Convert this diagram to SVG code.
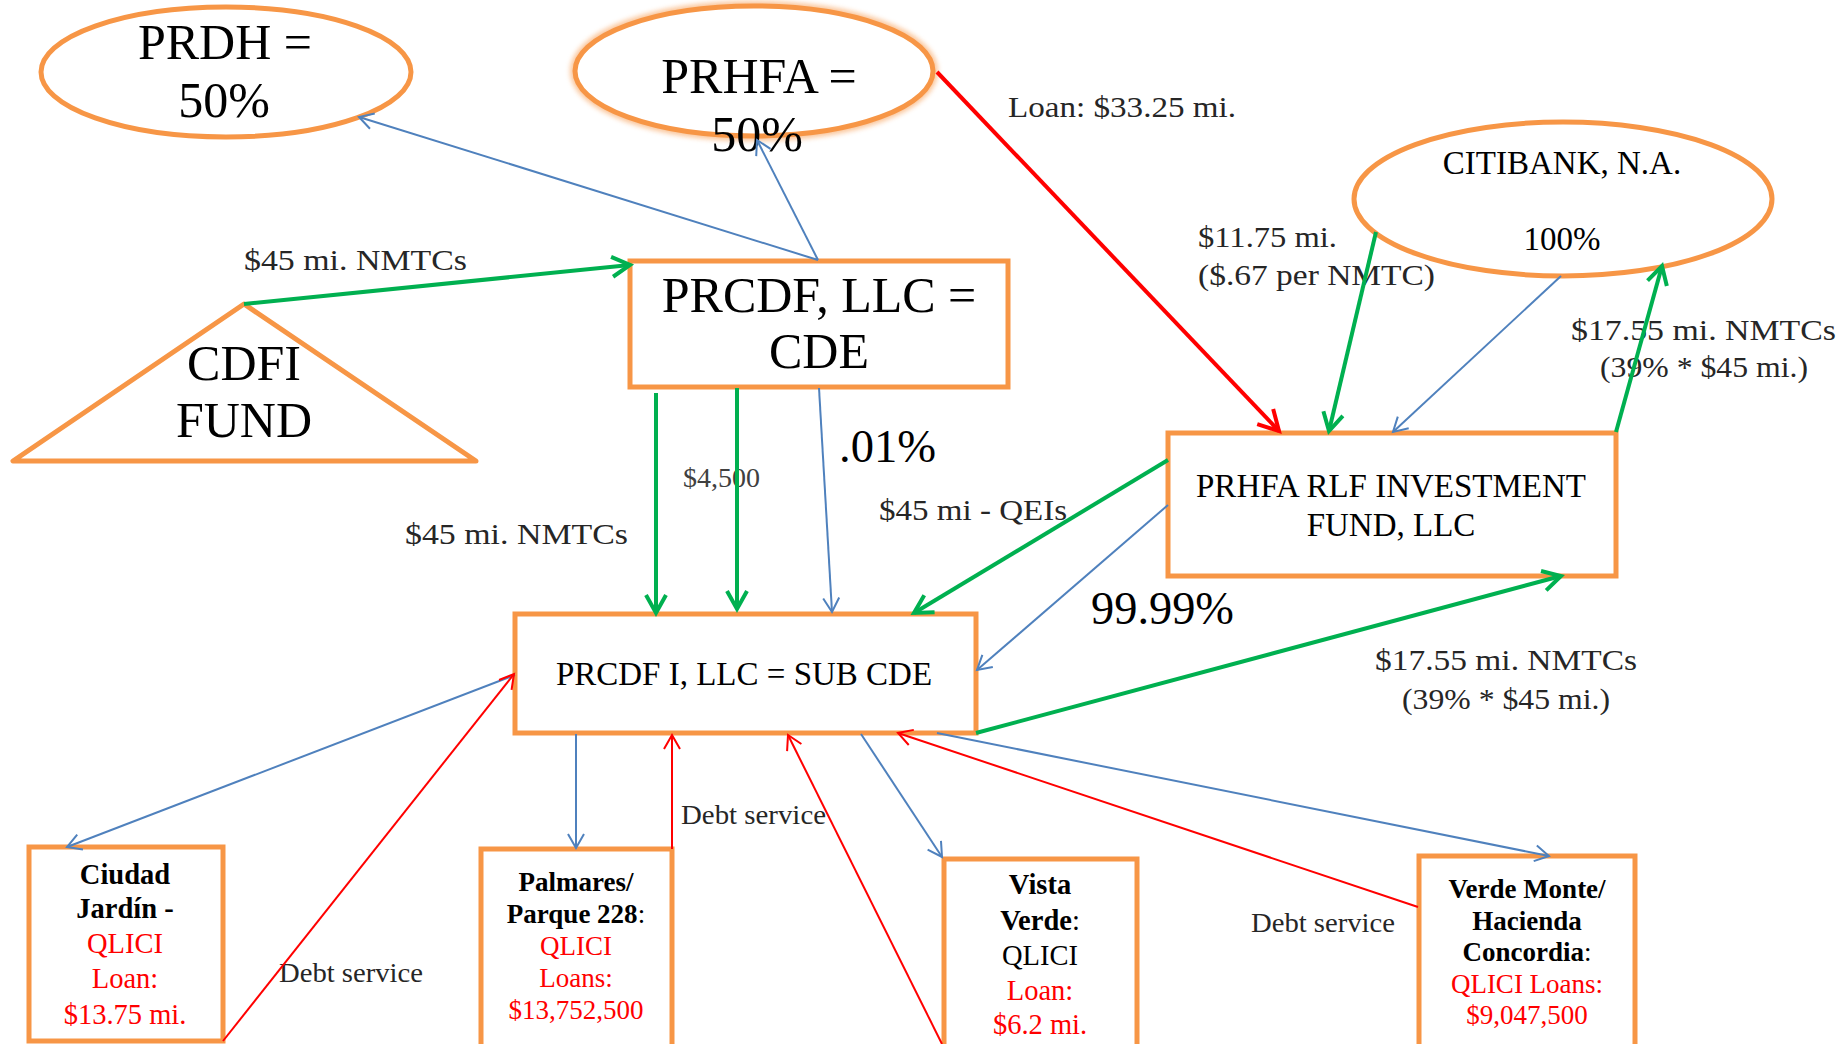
<svg xmlns="http://www.w3.org/2000/svg" width="1843" height="1044" viewBox="0 0 1843 1044">
<defs>
<style>
.node{fill:#fff;stroke:#F79646;stroke-width:5}
.t{font-family:"Liberation Serif","Times New Roman",serif;fill:#000;text-anchor:middle}
.big{font-size:50px}
.mid{font-size:33px}
.sm{font-size:27px}
.cj{font-size:28.5px}
.lbl{font-family:"Liberation Serif","Times New Roman",serif;fill:#262626}
.l30{font-size:30px}
.l27{font-size:27px}
.l46{font-size:46px;fill:#000}
.b{font-weight:bold}
.r{fill:#FF0000}
.g{stroke:#00B050;stroke-width:4;fill:none}
.bl{stroke:#4F81BD;stroke-width:2;fill:none}
.rd{stroke:#FF0000;stroke-width:2;fill:none}
.rdk{stroke:#FF0000;stroke-width:4;fill:none}
</style>
<filter id="soft" x="-10%" y="-20%" width="120%" height="140%"><feGaussianBlur stdDeviation="2.5"/></filter>
<marker id="ag" markerUnits="userSpaceOnUse" markerWidth="40" markerHeight="40" viewBox="-30 -20 40 40" refX="0" refY="0" orient="auto" overflow="visible"><path d="M-18,-10 L0,0 L-18,10" fill="none" stroke="#00B050" stroke-width="4"/></marker>
<marker id="ab" markerUnits="userSpaceOnUse" markerWidth="40" markerHeight="40" viewBox="-30 -20 40 40" refX="0" refY="0" orient="auto" overflow="visible"><path d="M-14,-8 L0,0 L-14,8" fill="none" stroke="#4F81BD" stroke-width="2"/></marker>
<marker id="ar" markerUnits="userSpaceOnUse" markerWidth="40" markerHeight="40" viewBox="-30 -20 40 40" refX="0" refY="0" orient="auto" overflow="visible"><path d="M-14,-8 L0,0 L-14,8" fill="none" stroke="#FF0000" stroke-width="2"/></marker>
<marker id="ark" markerUnits="userSpaceOnUse" markerWidth="40" markerHeight="40" viewBox="-30 -20 40 40" refX="0" refY="0" orient="auto" overflow="visible"><path d="M-20,-11 L0,0 L-20,11" fill="none" stroke="#FF0000" stroke-width="4"/></marker>
</defs>
<rect width="1843" height="1044" fill="#fff"/>

<g id="prdh">
<ellipse class="node" cx="226" cy="72" rx="185" ry="65"/>
<text class="t big" x="225" y="59">PRDH =</text>
<text class="t big" x="224" y="117">50%</text>
</g>

<g id="prhfa">
<ellipse cx="754" cy="71" rx="179" ry="65" fill="none" stroke="#F79646" stroke-width="10" opacity="0.55" filter="url(#soft)"/>
<ellipse class="node" cx="754" cy="71" rx="179" ry="65"/>
<text class="t big" x="759" y="93">PRHFA =</text>
<text class="t big" x="757" y="151">50%</text>
</g>

<g id="cdfi-fund">
<polygon class="node" points="244,304 13,461 476,461" stroke-linejoin="round"/>
<text class="t big" x="244" y="380">CDFI</text>
<text class="t big" x="244" y="437">FUND</text>
</g>

<g id="prcdf-cde">
<rect class="node" x="630" y="261" width="378" height="126"/>
<text class="t big" x="819" y="312">PRCDF, LLC =</text>
<text class="t big" x="819" y="368">CDE</text>
</g>

<g id="citibank">
<ellipse class="node" cx="1563" cy="199" rx="209" ry="77"/>
<text class="t mid" x="1562" y="174">CITIBANK, N.A.</text>
<text class="t mid" x="1562" y="250">100%</text>
</g>

<g id="prhfa-rlf">
<rect class="node" x="1168" y="433" width="448" height="143"/>
<text class="t mid" x="1391" y="497">PRHFA RLF INVESTMENT</text>
<text class="t mid" x="1391" y="536">FUND, LLC</text>
</g>

<g id="prcdf-sub-cde">
<rect class="node" x="515" y="614" width="461" height="119"/>
<text class="t mid" x="744" y="685">PRCDF I, LLC = SUB CDE</text>
</g>

<g id="ciudad-jardin">
<rect class="node" x="29" y="847" width="194" height="194"/>
<text class="t cj b" x="125" y="884">Ciudad</text>
<text class="t cj b" x="125" y="918">Jardín -</text>
<text class="t cj r" x="125" y="953">QLICI</text>
<text class="t cj r" x="125" y="988">Loan:</text>
<text class="t cj r" x="125" y="1024">$13.75 mi.</text>
</g>

<g id="palmares">
<rect class="node" x="481" y="849" width="191" height="200"/>
<text class="t sm b" x="576" y="891">Palmares/</text>
<text class="t sm" x="576" y="923"><tspan font-weight="bold">Parque 228</tspan>:</text>
<text class="t sm r" x="576" y="955">QLICI</text>
<text class="t sm r" x="576" y="987">Loans:</text>
<text class="t sm r" x="576" y="1019">$13,752,500</text>
</g>

<g id="vista-verde">
<rect class="node" x="944" y="859" width="193" height="200"/>
<text class="t cj b" x="1040" y="894">Vista</text>
<text class="t cj" x="1040" y="930"><tspan font-weight="bold">Verde</tspan>:</text>
<text class="t cj" x="1040" y="965">QLICI</text>
<text class="t cj r" x="1040" y="1000">Loan:</text>
<text class="t cj r" x="1040" y="1034">$6.2 mi.</text>
</g>

<g id="verde-monte">
<rect class="node" x="1419" y="856" width="216" height="200"/>
<text class="t sm b" x="1527" y="898">Verde Monte/</text>
<text class="t sm b" x="1527" y="930">Hacienda</text>
<text class="t sm" x="1527" y="961"><tspan font-weight="bold">Concordia</tspan>:</text>
<text class="t sm r" x="1527" y="993">QLICI Loans:</text>
<text class="t sm r" x="1527" y="1024">$9,047,500</text>
</g>

<g id="connectors">
<!-- flow labels -->
<text class="lbl l30" x="244" y="270" textLength="223" lengthAdjust="spacingAndGlyphs">$45 mi. NMTCs</text>
<text class="lbl l30" x="1008" y="117" textLength="228" lengthAdjust="spacingAndGlyphs">Loan: $33.25 mi.</text>
<text class="lbl l30" x="1198" y="247" textLength="139" lengthAdjust="spacingAndGlyphs">$11.75 mi.</text>
<text class="lbl l30" x="1198" y="285" textLength="237" lengthAdjust="spacingAndGlyphs">($.67 per NMTC)</text>
<text class="lbl l30" x="1571" y="340" textLength="265" lengthAdjust="spacingAndGlyphs">$17.55 mi. NMTCs</text>
<text class="lbl l30" x="1600" y="377" textLength="208" lengthAdjust="spacingAndGlyphs">(39% * $45 mi.)</text>
<text class="lbl l46" x="839" y="462" textLength="97" lengthAdjust="spacingAndGlyphs">.01%</text>
<text class="lbl l27" x="683" y="487" textLength="77" lengthAdjust="spacingAndGlyphs" style="fill:#404040">$4,500</text>
<text class="lbl l30" x="879" y="520" textLength="188" lengthAdjust="spacingAndGlyphs">$45 mi - QEIs</text>
<text class="lbl l30" x="405" y="544" textLength="223" lengthAdjust="spacingAndGlyphs">$45 mi. NMTCs</text>
<text class="lbl l46" x="1091" y="624" textLength="143" lengthAdjust="spacingAndGlyphs">99.99%</text>
<text class="lbl l30" x="1375" y="670" textLength="262" lengthAdjust="spacingAndGlyphs">$17.55 mi. NMTCs</text>
<text class="lbl l30" x="1402" y="709" textLength="208" lengthAdjust="spacingAndGlyphs">(39% * $45 mi.)</text>
<text class="lbl l27" x="279" y="982" textLength="144" lengthAdjust="spacingAndGlyphs">Debt service</text>
<text class="lbl l27" x="681" y="824" textLength="145" lengthAdjust="spacingAndGlyphs">Debt service</text>
<text class="lbl l27" x="1251" y="932" textLength="144" lengthAdjust="spacingAndGlyphs">Debt service</text>

<!-- ownership and flows -->
<line class="bl" x1="818" y1="260" x2="359" y2="117" marker-end="url(#ab)"/>
<line class="bl" x1="818" y1="260" x2="757" y2="140" marker-end="url(#ab)"/>
<line class="g" x1="244" y1="304" x2="630" y2="265" marker-end="url(#ag)"/>
<line class="rdk" x1="937" y1="72" x2="1279" y2="431" marker-end="url(#ark)"/>
<line class="g" x1="1376" y1="232" x2="1329" y2="431" marker-end="url(#ag)"/>
<line class="bl" x1="1561" y1="276" x2="1393" y2="432" marker-end="url(#ab)"/>
<line class="g" x1="1616" y1="432" x2="1662" y2="266" marker-end="url(#ag)"/>
<line class="g" x1="656" y1="393" x2="656" y2="613" marker-end="url(#ag)"/>
<line class="g" x1="737" y1="388" x2="737" y2="609" marker-end="url(#ag)"/>
<line class="bl" x1="819" y1="388" x2="832" y2="612" marker-end="url(#ab)"/>
<line class="g" x1="1168" y1="460" x2="914" y2="613" marker-end="url(#ag)"/>
<line class="bl" x1="1168" y1="505" x2="977" y2="670" marker-end="url(#ab)"/>
<line class="g" x1="976" y1="733" x2="1561" y2="576" marker-end="url(#ag)"/>
<line class="bl" x1="515" y1="675" x2="67" y2="847" marker-end="url(#ab)"/>
<line class="rd" x1="223" y1="1041" x2="514" y2="674" marker-end="url(#ar)"/>
<line class="bl" x1="576" y1="734" x2="576" y2="848" marker-end="url(#ab)"/>
<line class="rd" x1="672" y1="849" x2="672" y2="735" marker-end="url(#ar)"/>
<line class="rd" x1="942" y1="1044" x2="788" y2="735" marker-end="url(#ar)"/>
<line class="bl" x1="861" y1="734" x2="942" y2="857" marker-end="url(#ab)"/>
<line class="rd" x1="1418" y1="907" x2="898" y2="733" marker-end="url(#ar)"/>
<line class="bl" x1="937" y1="733" x2="1549" y2="856" marker-end="url(#ab)"/>
</g>
</svg>
